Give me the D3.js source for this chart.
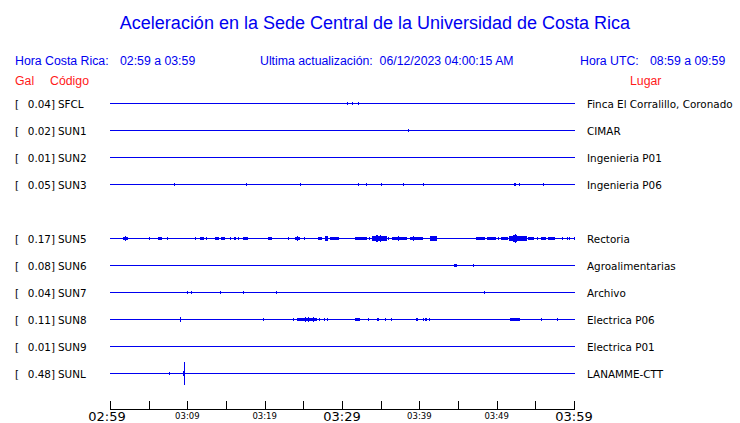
<!DOCTYPE html>
<html>
<head>
<meta charset="utf-8">
<script src="https://cdn.jsdelivr.net/npm/d3@7"></script>
<style>
  html, body { margin: 0; padding: 0; background: #fff; }
  svg { display: block; }
</style>
</head>
<body>
<svg id="chart" width="740" height="423"></svg>
<script>
// ---------------- DATA ----------------
const codes  = ["SFCL", "SUN1", "SUN2", "SUN3", "SUN5", "SUN6", "SUN7", "SUN8", "SUN9", "SUNL"];
const peakGal = ["0.04", "0.02", "0.01", "0.05", "0.17", "0.08", "0.04", "0.11", "0.01", "0.48"];
const places = ["Finca El Corralillo, Coronado", "CIMAR", "Ingenieria P01", "Ingenieria P06",
                "Rectoria", "Agroalimentarias", "Archivo", "Electrica P06", "Electrica P01", "LANAMME-CTT"];

// events: [startMinute, endMinute, amplitudeGal]  (minutes after 02:59)
const evSFCL = [[30.65,30.65,0.03],[31.29,31.29,0.02],[32.07,32.07,0.04]];
const evSUN1 = [[38.53,38.53,0.03]];
const evSUN2 = [];
const evSUN3 = [[8.28,8.28,0.02],[17.59,17.59,0.02],[24.57,24.57,0.02],[32.07,32.07,0.04],[33.10,33.10,0.03],
                [35.04,35.04,0.02],[37.89,37.89,0.02],[40.47,40.47,0.02],[52.24,52.50,0.05],[52.89,52.89,0.04],
                [55.99,55.99,0.02]];
const evSUN5 = [[1.68,2.33,0.08],[2.0,2.0,0.12],[5.04,5.04,0.05],[6.21,6.72,0.08],[7.33,7.33,0.06],[10.99,10.99,0.06],
                [11.64,11.64,0.03],[11.77,12.16,0.08],[12.41,12.41,0.06],[13.58,14.09,0.08],[14.35,14.87,0.08],
                [15.52,15.52,0.05],[16.03,16.29,0.07],[16.55,16.55,0.05],[17.16,17.16,0.06],[17.33,17.84,0.08],
                [20.43,20.95,0.07],[22.98,22.98,0.05],[23.92,24.57,0.08],[24.2,24.2,0.11],[25.09,25.09,0.06],
                [26.90,27.41,0.08],[27.80,28.19,0.09],[28.0,28.0,0.12],[28.45,29.61,0.08],[31.68,33.23,0.08],
                [33.49,33.49,0.06],[33.88,35.82,0.09],[34.40,34.66,0.13],[34.9,34.9,0.15],[35.95,35.95,0.06],
                [36.46,38.40,0.08],[37.3,37.3,0.11],[38.79,40.47,0.08],[39.2,39.2,0.10],[41.38,42.28,0.09],
                [41.8,41.8,0.12],[47.33,48.49,0.07],[48.75,49.91,0.07],[50.17,50.17,0.05],[50.56,51.47,0.08],
                [51.59,53.92,0.09],[52.11,52.63,0.14],[52.4,52.4,0.17],[54.05,54.83,0.08],[55.22,55.22,0.05],
                [55.73,56.38,0.08],[56.64,57.54,0.07],[58.45,58.45,0.05],[59.10,59.10,0.05],[59.35,59.35,0.04],
                [59.95,59.95,0.04]];
const evSUN6 = [[44.48,44.87,0.07],[44.6,44.6,0.08],[46.94,46.94,0.03]];
const evSUN7 = [[9.96,9.96,0.03],[10.47,10.47,0.03],[14.22,14.22,0.03],[17.20,17.20,0.04],[21.47,21.47,0.02],
                [48.36,48.36,0.03]];
const evSUN8 = [[9.05,9.05,0.10],[19.78,19.78,0.04],[23.66,23.66,0.04],[24.18,24.70,0.06],[24.70,26.77,0.07],
                [25.60,25.60,0.11],[25.2,25.2,0.09],[26.2,26.2,0.09],[27.03,27.03,0.04],[27.67,27.67,0.04],
                [28.06,28.06,0.03],[31.68,32.33,0.06],[33.36,33.36,0.05],[34.53,34.53,0.03],[34.66,34.66,0.03],
                [35.56,35.56,0.04],[36.34,36.34,0.03],[39.57,39.83,0.06],[40.47,40.47,0.03],[40.73,40.99,0.06],
                [41.25,41.25,0.04],[51.72,53.02,0.06],[55.73,55.73,0.04],[57.80,57.80,0.03]];
const evSUN9 = [];
const evSUNL = [[7.63,7.63,0.02],[9.44,9.70,0.12],[9.57,9.57,0.48]];
const events = [evSFCL, evSUN1, evSUN2, evSUN3, evSUN5, evSUN6, evSUN7, evSUN8, evSUN9, evSUNL];

const tickMinutes = [0,5,10,15,20,25,30,35,40,45,50,55,60];
const tickLabels  = {0:"02:59", 10:"03:09", 20:"03:19", 30:"03:29", 40:"03:39", 50:"03:49", 60:"03:59"};
const majorTicks  = [0, 30, 60];

const titleText = "Aceleración en la Sede Central de la Universidad de Costa Rica";
const localRange = "02:59 a 03:59";
const utcRange = "08:59 a 09:59";
const updated = "06/12/2023 04:00:15 AM";

// ---------------- DRAW ----------------
const svg = d3.select("#chart");
const BLUE = "#0000f0", RED = "#ff1a1a";
const sans = "'Liberation Sans', Arial, Helvetica, sans-serif";
const dv = "'DejaVu Sans', sans-serif";

const x = d3.scaleLinear().domain([0, 60]).range([110, 574]);
const slots = ["SFCL","SUN1","SUN2","SUN3","_gap","SUN5","SUN6","SUN7","SUN8","SUN9","SUNL"];
const y = d3.scalePoint().domain(slots).range([103, 373]);
const amp = d3.scaleLinear().domain([0, 0.48]).range([0, 11.5]);

// header
svg.append("text").attr("x", 375).attr("y", 29).attr("text-anchor", "middle")
  .attr("font-family", sans).attr("font-size", 18).attr("fill", BLUE).text(titleText);

const hdr = [
  [15, 65, "Hora Costa Rica:", BLUE], [120, 65, localRange, BLUE],
  [260, 65, "Ultima actualización:  " + updated, BLUE],
  [580, 65, "Hora UTC:", BLUE], [650, 65, utcRange, BLUE],
  [15, 85, "Gal", RED], [50, 85, "Código", RED], [630, 85, "Lugar", RED]
];
svg.selectAll("text.hdr").data(hdr).join("text").attr("class", "hdr")
  .attr("x", d => d[0]).attr("y", d => d[1]).attr("fill", d => d[3])
  .attr("font-family", sans).attr("font-size", 12.3)
  .style("white-space", "pre").attr("xml:space", "preserve").text(d => d[2]);

// rows
const LF = 10.4;
const rows = svg.selectAll("g.row").data(codes).join("g").attr("class", "row")
  .attr("transform", d => `translate(0,${Math.round(y(d)) + 0.5})`);

rows.append("text").attr("x", 15).attr("y", 4).attr("font-family", dv).attr("font-size", LF)
  .attr("fill", "#000").text("[");
rows.append("text").attr("x", 55).attr("y", 4).attr("text-anchor", "end").attr("font-family", dv)
  .attr("font-size", LF).attr("fill", "#000").text((d, i) => peakGal[i] + "]");
rows.append("text").attr("x", 58).attr("y", 4).attr("font-family", dv).attr("font-size", LF)
  .attr("fill", "#000").text(d => d);
rows.append("text").attr("x", 587).attr("y", 4).attr("font-family", dv).attr("font-size", LF)
  .attr("fill", "#000").text((d, i) => places[i]);

rows.append("line").attr("x1", x(0)).attr("x2", x(60) + 1).attr("y1", 0).attr("y2", 0)
  .attr("stroke", BLUE).attr("stroke-width", 1).attr("shape-rendering", "crispEdges");

rows.each(function(d, i) {
  d3.select(this).selectAll("rect.ev").data(events[i]).join("rect").attr("class", "ev")
    .attr("x", e => Math.round(x(e[0])))
    .attr("width", e => Math.max(1, Math.round(x(e[1]) - x(e[0]))))
    .attr("y", e => -Math.max(1.5, amp(e[2])))
    .attr("height", e => 2 * Math.max(1.5, amp(e[2])))
    .attr("fill", BLUE).attr("shape-rendering", "crispEdges");
});

// time axis
const axisY = 409.5;
svg.append("line").attr("x1", x(0)).attr("x2", x(60) + 1).attr("y1", axisY).attr("y2", axisY)
  .attr("stroke", "#000").attr("shape-rendering", "crispEdges");
svg.selectAll("line.tick").data(tickMinutes).join("line").attr("class", "tick")
  .attr("x1", d => Math.round(x(d)) + 0.5).attr("x2", d => Math.round(x(d)) + 0.5)
  .attr("y1", axisY - 9).attr("y2", axisY)
  .attr("stroke", "#000").attr("shape-rendering", "crispEdges");
svg.selectAll("text.tl").data(tickMinutes.filter(m => tickLabels[m])).join("text").attr("class", "tl")
  .attr("x", d => x(d) + (d === 0 ? -3 : 0)).attr("text-anchor", "middle")
  .attr("y", d => majorTicks.includes(d) ? 421 : 418.5)
  .attr("font-family", dv)
  .attr("font-size", d => majorTicks.includes(d) ? 13 : 8.5)
  .attr("fill", "#000").text(d => tickLabels[d]);
</script>
</body>
</html>
